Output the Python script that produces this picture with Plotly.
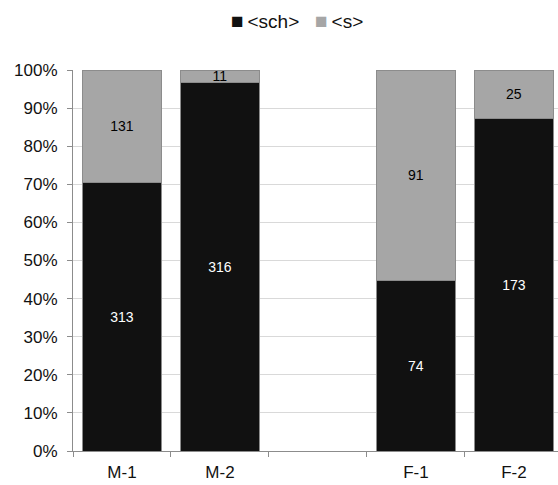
import plotly.graph_objects as go

categories = ["M-1", "M-2", " ", "F-1", "F-2"]
sch_values = [313, 316, None, 74, 173]
s_values = [131, 11, None, 91, 25]
series_names = ["&lt;sch&gt;", "&lt;s&gt;"]
series_colors = ["#111111", "#a6a6a6"]
label_colors = ["white", "black"]

FONT = "Liberation Sans, Arial, sans-serif"

fig = go.Figure()
for name, vals, col, lcol in zip(series_names, [sch_values, s_values], series_colors, label_colors):
    fig.add_trace(go.Bar(
        name=name, x=categories, y=vals,
        text=[str(v) if v is not None else "" for v in vals],
        textposition="inside", insidetextanchor="middle", textangle=0,
        constraintext="none",
        textfont=dict(color=lcol, size=14, family=FONT),
        marker=dict(color=col, line=dict(color="#8c8c8c", width=1)),
        showlegend=False,
    ))

legend_text = "&nbsp;&nbsp;&nbsp;".join(
    f"<span style='color:{c};font-size:21px'>■</span>&#8201;{n}"
    for n, c in zip(series_names, series_colors)
)
fig.add_annotation(
    text=legend_text, xref="paper", yref="paper", x=0.461, y=1.131,
    xanchor="center", yanchor="middle", showarrow=False,
    font=dict(size=19, family=FONT, color="#111111"),
)

fig.update_layout(
    width=558, height=485,
    barmode="stack", barnorm="percent", bargap=0.19,
    paper_bgcolor="white", plot_bgcolor="white",
    margin=dict(l=73, r=0, t=70, b=34),
    font=dict(family=FONT, size=17, color="#111111"),
    uniformtext=dict(minsize=14, mode="show"),
    xaxis=dict(
        type="category", categoryorder="array", categoryarray=categories,
        range=[-0.5, 4.45], showline=True, linecolor="#8c8c8c", linewidth=1,
        ticks="outside", tickson="boundaries", ticklen=5, tickcolor="#8c8c8c",
        showgrid=False, tickfont=dict(size=17), ticklabelstandoff=6,
    ),
    yaxis=dict(
        range=[0, 100], dtick=10, ticksuffix="%", showline=True,
        linecolor="#8c8c8c", linewidth=1, ticks="outside", ticklen=5,
        tickcolor="#8c8c8c", showgrid=True, gridcolor="#d9d9d9",
        gridwidth=1, zeroline=False, tickfont=dict(size=17),
        ticklabelstandoff=6,
    ),
)

fig.write_html("out.html", config={"displayModeBar": False},
               post_script="document.body.style.margin='0px';")
